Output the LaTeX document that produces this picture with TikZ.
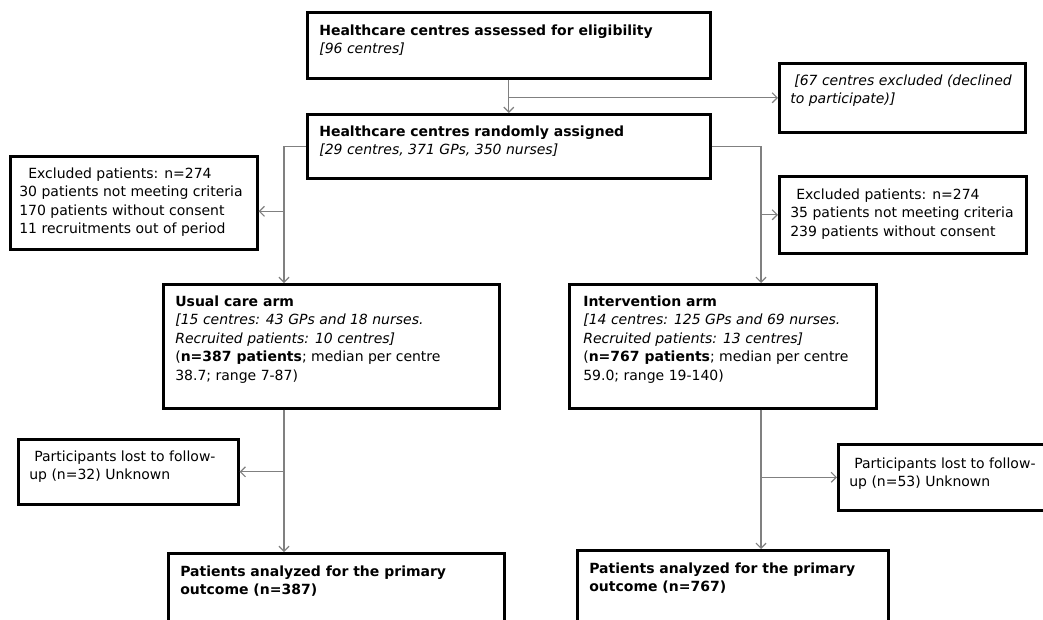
\documentclass[tikz,border=0pt]{standalone}
\usepackage{fontspec}
\setmainfont{DejaVu Sans}
\usetikzlibrary{arrows.meta}
\newcommand{\boxtext}[4][22pt]{\parbox[t][#3][t]{#2}{\raggedright\rule{0pt}{#1}#4}}

\begin{document}
\begin{tikzpicture}[x=1pt,y=-1pt,font=\fontsize{14}{18.5}\selectfont,
	box/.style={draw=black,line width=2.6pt,anchor=north west,inner xsep=12pt,inner ysep=0pt},
	link/.style={draw=gray,line width=1.2pt,-{Straight Barb[length=5pt,width=10pt]}}]
	\useasboundingbox (0,0) rectangle (1043,619);
	\clip (0,0) rectangle (1043,619);
	% centres
	\node[box] (elig) at (306,11) {\boxtext[23pt]{379pt}{66pt}{\textbf{Healthcare centres assessed for eligibility}\\\textit{[96 centres]}}};
	\node[box,inner xsep=11pt] (excl) at (778,62) {\boxtext{224pt}{69pt}{\textit{\hspace{4pt}[67 centres excluded (declined\\to participate)]}}};
	\node[box] (rand) at (306,113) {\boxtext{379pt}{64pt}{\textbf{Healthcare centres randomly assigned}\\\textit{[29 centres, 371 GPs, 350 nurses]}}};
	% excluded patients
	\node[box,inner xsep=9pt] (exL) at (9,155) {\boxtext{229pt}{93pt}{\hspace{9pt}Excluded patients: n=274\\30 patients not meeting criteria\\170 patients without consent\\11 recruitments out of period}};
	\node[box,inner xsep=11pt] (exR) at (778,175) {\boxtext[23pt]{225pt}{77pt}{\hspace{6pt}Excluded patients: n=274\\35 patients not meeting criteria\\239 patients without consent}};
	% arms
	\node[box] (usual) at (162,283) {\boxtext{312pt}{124pt}{\textbf{Usual care arm}\\\textit{[15 centres: 43 GPs and 18 nurses.\\Recruited patients: 10 centres]}\\(\textbf{n=387 patients}; median per centre\\38.7; range 7-87)}};
	\node[box,inner xsep=14pt] (interv) at (568,283) {\boxtext{279pt}{124pt}{\textbf{Intervention arm}\\\textit{[14 centres: 125 GPs and 69 nurses.\\Recruited patients: 13 centres]}\\(\textbf{n=767 patients}; median per centre\\59.0; range 19-140)}};
	% follow-up
	\node[box,inner xsep=11pt] (lostL) at (17,438) {\boxtext{198pt}{65pt}{\hspace{5pt}Participants lost to follow-\\up (n=32) Unknown}};
	\node[box,inner xsep=11pt] (lostR) at (837,443) {\boxtext[24pt]{208pt}{66pt}{\hspace{5pt}Participants lost to follow-\\up (n=53) Unknown}};
	% analysis
	\node[box] (anaL) at (167,552) {\boxtext[23pt]{312pt}{100pt}{\textbf{Patients analyzed for the primary\\outcome (n=387)}}};
	\node[box] (anaR) at (576,549) {\boxtext[23pt]{287pt}{100pt}{\textbf{Patients analyzed for the primary\\outcome (n=767)}}};
	% connectors
	\coordinate (ltrunk) at (284,0);
	\coordinate (rtrunk) at (761,0);
	\path ([yshift=-8.5pt]exL.east) coordinate (exLin);
	\draw[link] (elig.south) -- (rand.north);
	\draw[link] (elig.south |- excl.west) -- (excl.west);
	\draw[link] (rand.west) -| (ltrunk |- usual.north);
	\draw[link] (rand.east) -| (rtrunk |- interv.north);
	\draw[link] (ltrunk |- exLin) -- (exLin);
	\draw[link] (rtrunk |- exR.west) -- (exR.west);
	\draw[link] (ltrunk |- usual.south) -- (ltrunk |- anaL.north);
	\draw[link] (rtrunk |- interv.south) -- (rtrunk |- anaR.north);
	\draw[link] (ltrunk |- lostL.east) -- (lostL.east);
	\draw[link] (rtrunk |- lostR.west) -- (lostR.west);
\end{tikzpicture}
\end{document}
